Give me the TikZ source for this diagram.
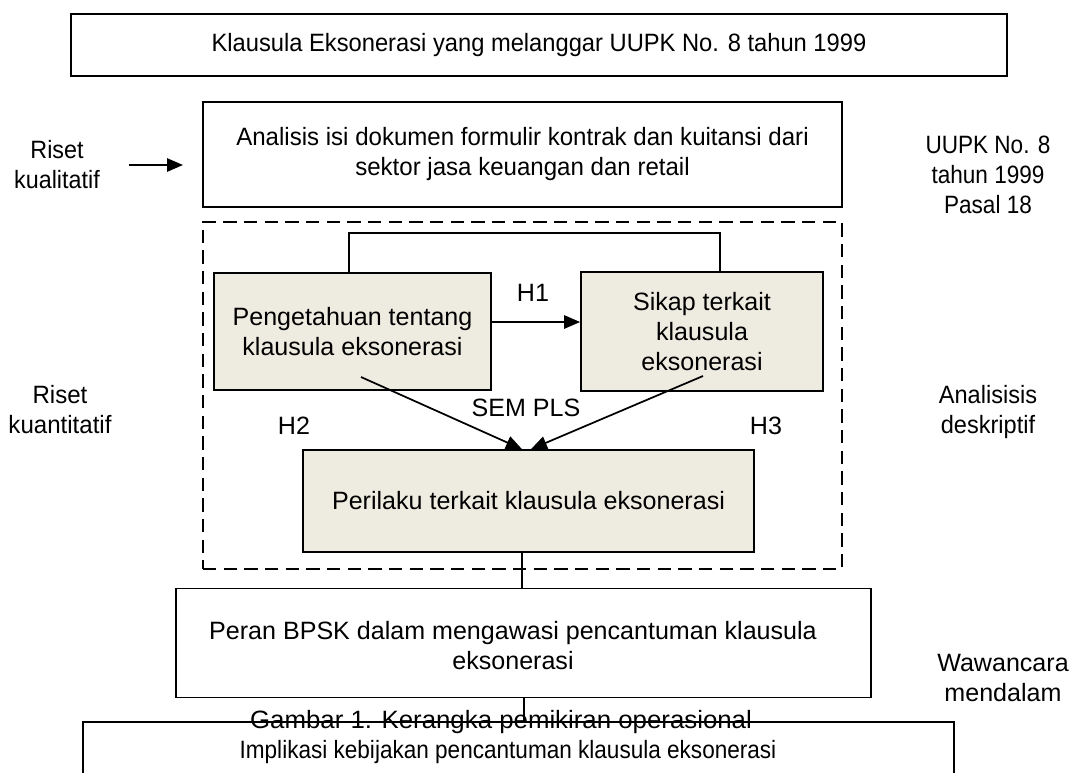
\documentclass[tikz,border=0pt]{standalone}
\usepackage{fontspec}
\setmainfont{Liberation Sans}
\usetikzlibrary{arrows.meta}
\definecolor{boxfill}{RGB}{238,236,225}
\newcommand\diafont{\fontsize{18.8pt}{22.5pt}\selectfont}
\newcommand\sx[2]{\scalebox{#1}[1]{#2}}
\begin{document}
\begin{tikzpicture}[x=0.75pt,y=-0.75pt,
  every node/.style={font=\diafont, inner sep=0pt, align=center},
  plain/.style={draw=black, line width=1.3pt, inner sep=0pt},
  tan/.style={plain, fill=boxfill},
  wh/.style 2 args={minimum width=#1*0.75pt, minimum height=#2*0.75pt},
  dashframe/.style={draw=black, line width=1.2pt, dash pattern=on 10pt off 5.5pt},
  link/.style={draw=black, line width=1.3pt},
  arr/.style={link, -{Triangle[length=12pt,width=10pt]}}]
\useasboundingbox (0,0) rectangle (1071,772);
\clip (0,0) rectangle (1071,772);
\fill[white] (0,0) rectangle (1071,772);

% boxes
\node[plain, wh={936}{62}] (top) at (539,45) {\sx{0.946}{Klausula Eksonerasi yang melanggar UUPK No. 8 tahun 1999}};
\node[plain, wh={639}{105}] (anal) at (522.5,154.5) {\sx{0.96}{Analisis isi dokumen formulir kontrak dan kuitansi dari}\\\sx{0.96}{sektor jasa keuangan dan retail}};
\node[dashframe, wh={639}{347}] (quant) at (522.5,395.5) {};
\node[tan, wh={277}{117}] (peng) at (352.5,331.5) {Pengetahuan tentang\\klausula eksonerasi};
\node[tan, wh={242}{119}] (sikap) at (702,331.5) {Sikap terkait\\klausula\\eksonerasi};
\node[tan, wh={451}{102}] (peril) at (528.5,501) {Perilaku terkait klausula eksonerasi};
\node[plain, wh={695}{109}] (peran) at (523.5,643) {};
\node[plain, wh={871}{60}] (impl) at (518.5,752) {};
\node (perantext) at (513,646) {Peran BPSK dalam mengawasi pencantuman klausula\\eksonerasi};
\node (impltext) at (508,752) {\sx{0.9}{Implikasi kebijakan pencantuman klausula eksonerasi}};

% helper coordinates
\coordinate (bl) at (349,233);
\coordinate (br) at (720,233);
\coordinate (h1y) at (0,322);
\coordinate (s2) at (361,377);
\coordinate (s3) at (703,376);
\coordinate (t2) at (522,0);
\coordinate (t3) at (531,0);
\coordinate (v1) at (522,0);
\coordinate (v2) at (524,0);
\coordinate (ra) at (129,165);
\coordinate (rb) at (183,165);

% connectors
\draw[link] (peng.north -| bl) -- (bl) -- (br) -- (sikap.north -| br);
\draw[arr] (peng.east |- h1y) -- (sikap.west |- h1y);
\draw[arr] (s2) -- (peril.north -| t2);
\draw[arr] (s3) -- (peril.north -| t3);
\draw[link] (peril.south -| v1) -- (peran.north -| v1);
\draw[link] (peran.south -| v2) -- (impl.north -| v2);
\draw[arr] (ra) -- (rb);

% labels
\node (rq) at (57,165) {\sx{0.93}{Riset}\\\sx{0.93}{kualitatif}};
\node (rk) at (60,410) {\sx{0.96}{Riset}\\\sx{0.96}{kuantitatif}};
\node (uupk) at (988,175) {\sx{0.9}{UUPK No. 8}\\\sx{0.9}{tahun 1999}\\\sx{0.9}{Pasal 18}};
\node (desk) at (988,412) {\sx{0.94}{Analisisis}\\\sx{0.94}{deskriptif}};
\node (waw) at (1003,678) {Wawancara\\mendalam};
\node (h1) at (533,293) {H1};
\node (h2) at (294,426) {H2};
\node (h3) at (766,426) {H3};
\node (sem) at (526,408) {SEM PLS};
\node (gambar) at (501,722) {\sx{1.03}{Gambar 1. Kerangka pemikiran operasional}};
\end{tikzpicture}
\end{document}
